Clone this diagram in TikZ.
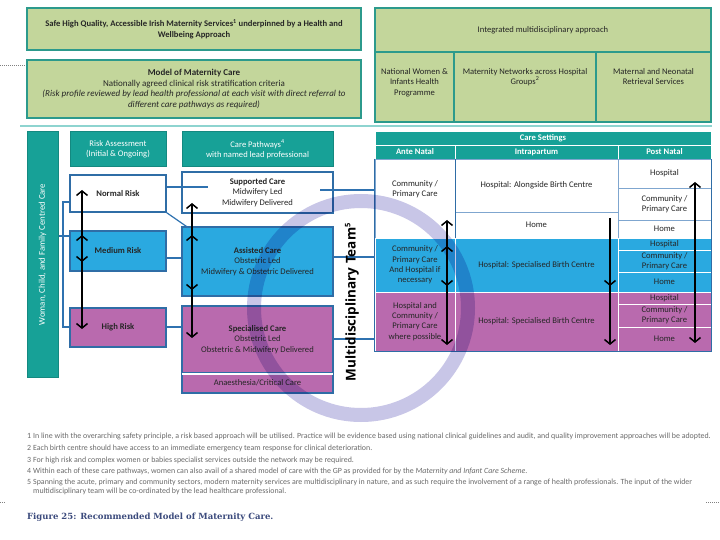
\documentclass[tikz,border=0pt]{standalone}
\usepackage{fontspec}
\setmainfont{Carlito}
\newfontfamily\mdtfont{Open Sans}
\newfontfamily\capfont{DejaVu Serif}
\usetikzlibrary{arrows.meta}

\definecolor{lgreen}{HTML}{C3D69B}
\definecolor{gborder}{HTML}{2C9A8C}
\definecolor{tealf}{HTML}{17A197}
\definecolor{bluef}{HTML}{2AA9E0}
\definecolor{magf}{HTML}{B96AAE}
\definecolor{bord}{HTML}{2F6DA6}
\definecolor{connc}{HTML}{2F72B0}
\definecolor{lav}{HTML}{C8C6E7}
\definecolor{sepw}{HTML}{7FA6CF}
\definecolor{capc}{HTML}{3C4B7D}
\definecolor{notec}{HTML}{6A6A6A}
\definecolor{txt}{HTML}{262626}
\definecolor{topline}{HTML}{8ED4D0}

\tikzset{
 base/.style={rectangle, inner sep=1pt, align=center, text=txt, font=\fontsize{8.6}{10.2}\selectfont},
 gbox/.style={base, fill=lgreen, draw=gborder, line width=1.6pt, font=\fontsize{8.6}{10.4}\selectfont},
 tbox/.style={base, fill=tealf, draw=tealf!85!black, line width=1pt, text=white},
 wbox/.style={base, fill=white, draw=bord, line width=1.5pt},
 bbox/.style={base, fill=bluef, draw=bord, line width=1.5pt},
 mbox/.style={base, fill=magf, draw=bord, line width=1.5pt},
 cellw/.style={base, inner sep=0pt, fill=white, draw=sepw, line width=0.8pt},
 cellb/.style={base, inner sep=0pt, fill=bluef, draw=white, line width=0.8pt},
 cellm/.style={base, inner sep=0pt, fill=magf, draw=white, line width=0.8pt},
 cellt/.style={base, inner sep=0pt, fill=tealf, draw=white, line width=0.8pt, text=white, font=\fontsize{8.6}{10}\selectfont\bfseries},
 connline/.style={draw=connc, line width=1.2pt},
 dbl/.style={black, line width=1.5pt, {Straight Barb[length=4.5pt,width=11pt]}-{Straight Barb[length=4.5pt,width=11pt]}},
 sgl/.style={black, line width=1.5pt, -{Straight Barb[length=4.5pt,width=11pt]}},
 note/.style={anchor=west, inner sep=0pt, text=notec, font=\fontsize{7.9}{9}\selectfont},
 toplbl/.style={base, font=\fontsize{8.6}{10.4}\selectfont, anchor=north, yshift=-16pt},
 dotline/.style={densely dotted, line width=1pt, gray},
}

\begin{document}
\begin{tikzpicture}[x=1pt,y=-1pt]
\useasboundingbox (0,0) rectangle (720,540);
\fill[white] (0,0) rectangle (720,540);

% dotted margin marks
\draw[dotline] (0,66) -- (25,66);
\draw[dotline] (0,502) -- (6,502);
\draw[dotline] (706,502) -- (720,502);

% top green boxes
\node[gbox, font=\fontsize{8.6}{10.4}\selectfont\bfseries, minimum width=334pt, minimum height=42pt] (safe) at (194,29)
 {Safe High Quality, Accessible Irish Maternity Services\textsuperscript{1} underpinned by a Health and\\Wellbeing Approach};
\node[gbox, font=\fontsize{9}{10.5}\selectfont, minimum width=334pt, minimum height=58pt] (model) at (194,89)
 {\textbf{Model of Maternity Care}\\Nationally agreed clinical risk stratification criteria\\\textit{(Risk profile reviewed by lead health professional at each visit with direct referral to}\\\textit{different care pathways as required)}};

\node[gbox, minimum width=336pt, minimum height=44pt] (integ) at (543,30) {Integrated multidisciplinary approach};
\node[gbox, minimum width=79pt, minimum height=70pt, label={[toplbl]north:National Women \&\\Infants Health\\Programme}] (nwihp) at (414.5,87) {};
\node[gbox, minimum width=142pt, minimum height=70pt, label={[toplbl]north:Maternity Networks across Hospital\\Groups\textsuperscript{2}}] (netw) at (525,87) {};
\node[gbox, minimum width=115pt, minimum height=70pt, label={[toplbl]north:Maternal and Neonatal\\Retrieval Services}] (retr) at (653.5,87) {};

\draw[topline, line width=1.5pt] (20,126) -- (712,126);

% left side
\node[tbox, font=\fontsize{8.8}{10}\selectfont, minimum width=31pt, minimum height=245pt] (bar) at (42.5,254.5) {\rotatebox{90}{Woman, Child, and Family Centred Care}};
\node[tbox, minimum width=96pt, minimum height=35pt] (riskass) at (118,149.5) {Risk Assessment\\(Initial \& Ongoing)};
\node[tbox, minimum width=151pt, minimum height=35pt] (pathw) at (257.5,149.5) {Care Pathways\textsuperscript{4}\\with named lead professional};

\node[wbox, minimum width=96pt, minimum height=37pt] (normal) at (118,193.5) {\textbf{Normal Risk}};
\node[bbox, minimum width=96pt, minimum height=40pt] (medium) at (118,251) {\textbf{Medium Risk}};
\node[mbox, minimum width=96pt, minimum height=39pt] (high) at (118,327.5) {\textbf{High Risk}};

\node[wbox, minimum width=151pt, minimum height=41pt] (supp) at (257.5,192.5) {\textbf{Supported Care}\\Midwifery Led\\Midwifery Delivered};
\node[bbox, minimum width=151pt, minimum height=69pt] (assist) at (257.5,261.5) {\textbf{Assisted Care}\\Obstetric Led\\Midwifery \& Obstetric Delivered};
\node[mbox, minimum width=151pt, minimum height=67pt] (spec) at (257.5,339.5) {\textbf{Specialised Care}\\Obstetric Led\\Obstetric \& Midwifery Delivered};
\node[mbox, minimum width=151pt, minimum height=20pt] (anaes) at (257.5,383) {Anaesthesia/Critical Care};
\draw[white, line width=1.5pt] ([xshift=1pt]spec.south west) -- ([xshift=-1pt]spec.south east);

% care settings table
\node[cellt, minimum width=336pt, minimum height=14pt] (cset) at (543,138) {Care Settings};
\node[cellt, minimum width=80pt, minimum height=14pt] (hante) at (415,152) {Ante Natal};
\node[cellt, minimum width=163pt, minimum height=14pt] (hintra) at (536.5,152) {Intrapartum};
\node[cellt, minimum width=93pt, minimum height=14pt] (hpost) at (664.5,152) {Post Natal};

\node[cellw, minimum width=80pt, minimum height=79pt] (a1) at (415,198.5) {Community /\\Primary Care\\[10pt]};
\node[cellw, minimum width=163pt, minimum height=53pt] (i1) at (536.5,185.5) {Hospital: Alongside Birth Centre};
\node[cellw, minimum width=163pt, minimum height=26pt] (i1h) at (536.5,225) {Home};
\node[cellw, minimum width=93pt, minimum height=29pt] (p1a) at (664.5,173.5) {Hospital};
\node[cellw, minimum width=93pt, minimum height=32pt] (p1b) at (664.5,204) {Community /\\Primary Care};
\node[cellw, minimum width=93pt, minimum height=18pt] (p1c) at (664.5,229) {Home};

\node[cellb, minimum width=80pt, minimum height=54pt] (a2) at (415,265) {Community /\\Primary Care\\And Hospital if\\necessary};
\node[cellb, minimum width=163pt, minimum height=54pt] (i2) at (536.5,265) {Hospital: Specialised Birth Centre};
\node[cellb, minimum width=93pt, minimum height=12pt] (p2a) at (664.5,244) {Hospital};
\node[cellb, minimum width=93pt, minimum height=22pt] (p2b) at (664.5,261) {Community /\\Primary Care};
\node[cellb, minimum width=93pt, minimum height=20pt] (p2c) at (664.5,282) {Home};

\node[cellm, minimum width=80pt, minimum height=59pt] (a3) at (415,321.5) {Hospital and\\Community /\\Primary Care\\where possible};
\node[cellm, minimum width=163pt, minimum height=59pt] (i3) at (536.5,321.5) {Hospital: Specialised Birth Centre};
\node[cellm, minimum width=93pt, minimum height=12pt] (p3a) at (664.5,298) {Hospital};
\node[cellm, minimum width=93pt, minimum height=23pt] (p3b) at (664.5,315.5) {Community /\\Primary Care};
\node[cellm, minimum width=93pt, minimum height=24pt] (p3c) at (664.5,339) {Home};

\draw[bord, line width=1.5pt] (a1.north west) -- (a3.south west) -- (p3c.south east) -- (p1a.north east);
\draw[bord, line width=1.2pt] (a1.north east) -- (a1.south east);

% connectors
\draw[connline] (bar.east |- 0,236) -- (medium.west |- 0,236);
\draw[connline] (normal.west |- 0,202) -- (63,202) -- (63,327) -- (high.west |- 0,327);
\draw[connline] (normal.east |- 0,187) -- (208,187);
\draw[connline] (normal.south east) -- (188,227.5);
\draw[connline] (medium.east |- 0,258) -- (assist.west |- 0,258);
\draw[connline] (high.east |- 0,327) -- (spec.west |- 0,327);
\draw[connline] (320,190) -- (a1.west |- 0,190);
\draw[connline] (assist.east |- 0,257) -- (a2.west |- 0,257);
\draw[connline] (spec.east |- 0,339) -- (a3.west |- 0,339);

% arrows
\draw[dbl] (82,190) -- (82,262);
\draw[dbl] (82,235) -- (82,329);
\draw[dbl] (192,203) -- (192,290);
\draw[dbl] (192,235) -- (192,338);
\draw[dbl] (447,220) -- (447,286);
\draw[dbl] (447,246) -- (447,345);
\draw[sgl] (610,218) -- (610,286);
\draw[sgl] (610,240) -- (610,345);
\draw[dbl] (695,182) -- (695,343);

% ring
\begin{scope}[blend mode=multiply]
\draw[lav, line width=14pt] (361,308) circle [radius=107];
\end{scope}

\node[rotate=90, inner sep=0pt, font=\mdtfont\bfseries\fontsize{13.5}{15}\selectfont] (mdt) at (352,302) {Multidisciplinary Team\textsuperscript{\fontsize{7.5}{8}\selectfont 5}};

% footnotes
\node[note] (fn1) at (27,436) {\makebox[6pt][l]{1}In line with the overarching safety principle, a risk based approach will be utilised. Practice will be evidence based using national clinical guidelines and audit, and quality improvement approaches will be adopted.};
\node[note] (fn2) at (27,448) {\makebox[6pt][l]{2}Each birth centre should have access to an immediate emergency team response for clinical deterioration.};
\node[note] (fn3) at (27,460) {\makebox[6pt][l]{3}For high risk and complex women or babies specialist services outside the network may be required.};
\node[note] (fn4) at (27,471) {\makebox[6pt][l]{4}Within each of these care pathways, women can also avail of a shared model of care with the GP as provided for by the \textit{Maternity and Infant Care Scheme}.};
\node[note] (fn5) at (27,482) {\makebox[6pt][l]{5}Spanning the acute, primary and community sectors, modern maternity services are multidisciplinary in nature, and as such require the involvement of a range of health professionals. The input of the wider};
\node[note] (fn5b) at (33,491) {multidisciplinary team will be co-ordinated by the lead healthcare professional.};

\node[anchor=west, inner sep=0pt, text=capc, font=\capfont\bfseries\fontsize{8.5}{9}\selectfont] (cap) at (27,517) {Figure 25: Recommended Model of Maternity Care.};
\end{tikzpicture}
\end{document}
